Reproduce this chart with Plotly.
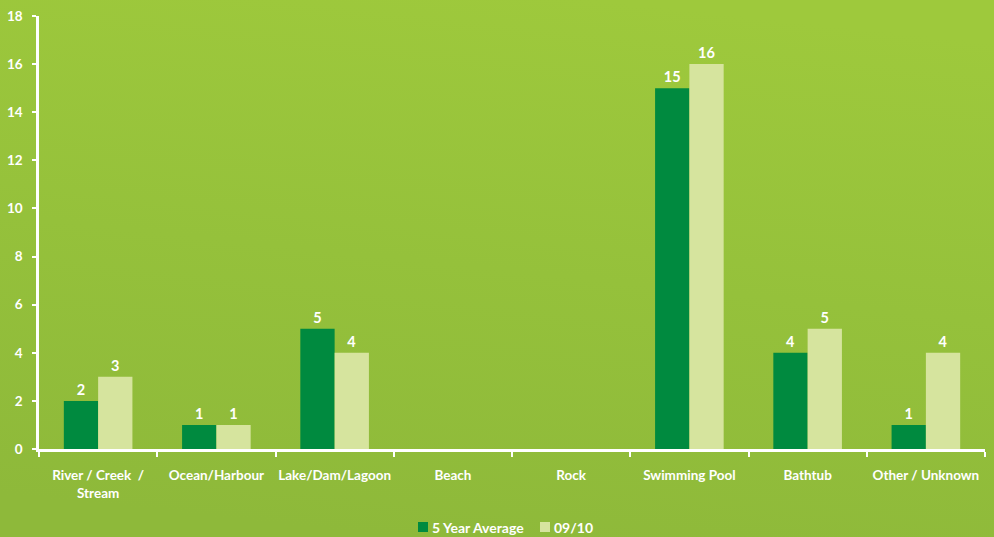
import base64
import plotly.graph_objects as go

categories = ["River / Creek  /<br>Stream", "Ocean/Harbour", "Lake/Dam/Lagoon", "Beach",
              "Rock", "Swimming Pool", "Bathtub", "Other / Unknown"]
five_year_avg = [2, 1, 5, None, None, 15, 4, 1]
season_0910 = [3, 1, 4, None, None, 16, 5, 4]
y_ticks = [0, 2, 4, 6, 8, 10, 12, 14, 16, 18]
series_names = ["5 Year Average", "09/10"]

DARK = "#008a3f"
LIGHT = "#d6e49e"
FONT = "Lato"
W, H = 994, 537
L, R, T, B = 39, 9, 16, 88
PW, PH = W - L - R, H - T - B

# soft vertical green wash behind the chart
svg = (
    f'<svg xmlns="http://www.w3.org/2000/svg" width="{W}" height="{H}" preserveAspectRatio="none">'
    '<defs><linearGradient id="g" x1="0.6" y1="0" x2="0.4" y2="1">'
    '<stop offset="0" stop-color="#9ec93c"/>'
    '<stop offset="0.5" stop-color="#95c13b"/>'
    '<stop offset="1" stop-color="#8eb93a"/>'
    '</linearGradient></defs>'
    f'<rect width="{W}" height="{H}" fill="url(#g)"/></svg>'
)
bg_src = "data:image/svg+xml;base64," + base64.b64encode(svg.encode()).decode()

label_font = dict(color="white", size=13.5, family=FONT, weight="bold")
value_font = dict(color="white", size=14.5, family=FONT, weight="bold")

fig = go.Figure()
for name, vals, col in [(series_names[0], five_year_avg, DARK), (series_names[1], season_0910, LIGHT)]:
    fig.add_bar(
        x=categories, y=vals, name=name,
        marker=dict(color=col, line=dict(width=0)),
        text=[str(v) if v is not None else "" for v in vals],
        textposition="outside", cliponaxis=False,
        textfont=value_font,
    )

# legend drawn below the axis: colour square followed by its series name
legend_items = [(series_names[0], DARK, 418), (series_names[1], LIGHT, 540)]
shapes, annotations = [], []
for name, col, px in legend_items:
    y_mid = -(527 - (H - B)) / PH
    half = 5 / PH
    shapes.append(dict(type="rect", xref="paper", yref="paper",
                       x0=(px - L) / PW, x1=(px + 10 - L) / PW,
                       y0=y_mid - half, y1=y_mid + half,
                       fillcolor=col, line=dict(width=0)))
    annotations.append(dict(text=name, xref="paper", yref="paper",
                            x=(px + 12 - L) / PW, y=y_mid, xanchor="left", yanchor="middle",
                            showarrow=False, font=dict(label_font, size=14)))

fig.update_layout(
    width=W, height=H,
    margin=dict(l=L, r=R, t=T, b=B, autoexpand=False),
    paper_bgcolor="#95c13b",
    plot_bgcolor="rgba(0,0,0,0)",
    barmode="group", bargap=0.42, bargroupgap=0,
    font=dict(family=FONT, color="white", size=13),
    showlegend=False,
    shapes=shapes, annotations=annotations,
    images=[dict(source=bg_src, xref="paper", yref="paper",
                 x=-L / PW, y=1 + T / PH, sizex=W / PW, sizey=H / PH,
                 xanchor="left", yanchor="top", sizing="stretch", layer="below")],
)
fig.update_xaxes(
    showline=True, linecolor="white", linewidth=2.5,
    ticks="outside", tickson="boundaries", ticklen=5, tickcolor="white", tickwidth=2,
    ticklabelstandoff=12, tickangle=0, automargin=False,
    tickfont=label_font,
    showgrid=False,
)
fig.update_yaxes(
    range=[0, 18], tickvals=y_ticks,
    showline=True, linecolor="white", linewidth=2.5,
    ticks="outside", ticklen=4, tickcolor="white", tickwidth=2,
    ticklabelstandoff=7, automargin=False,
    tickfont=label_font,
    showgrid=False, zeroline=False,
)

fig.write_html("out.html")
